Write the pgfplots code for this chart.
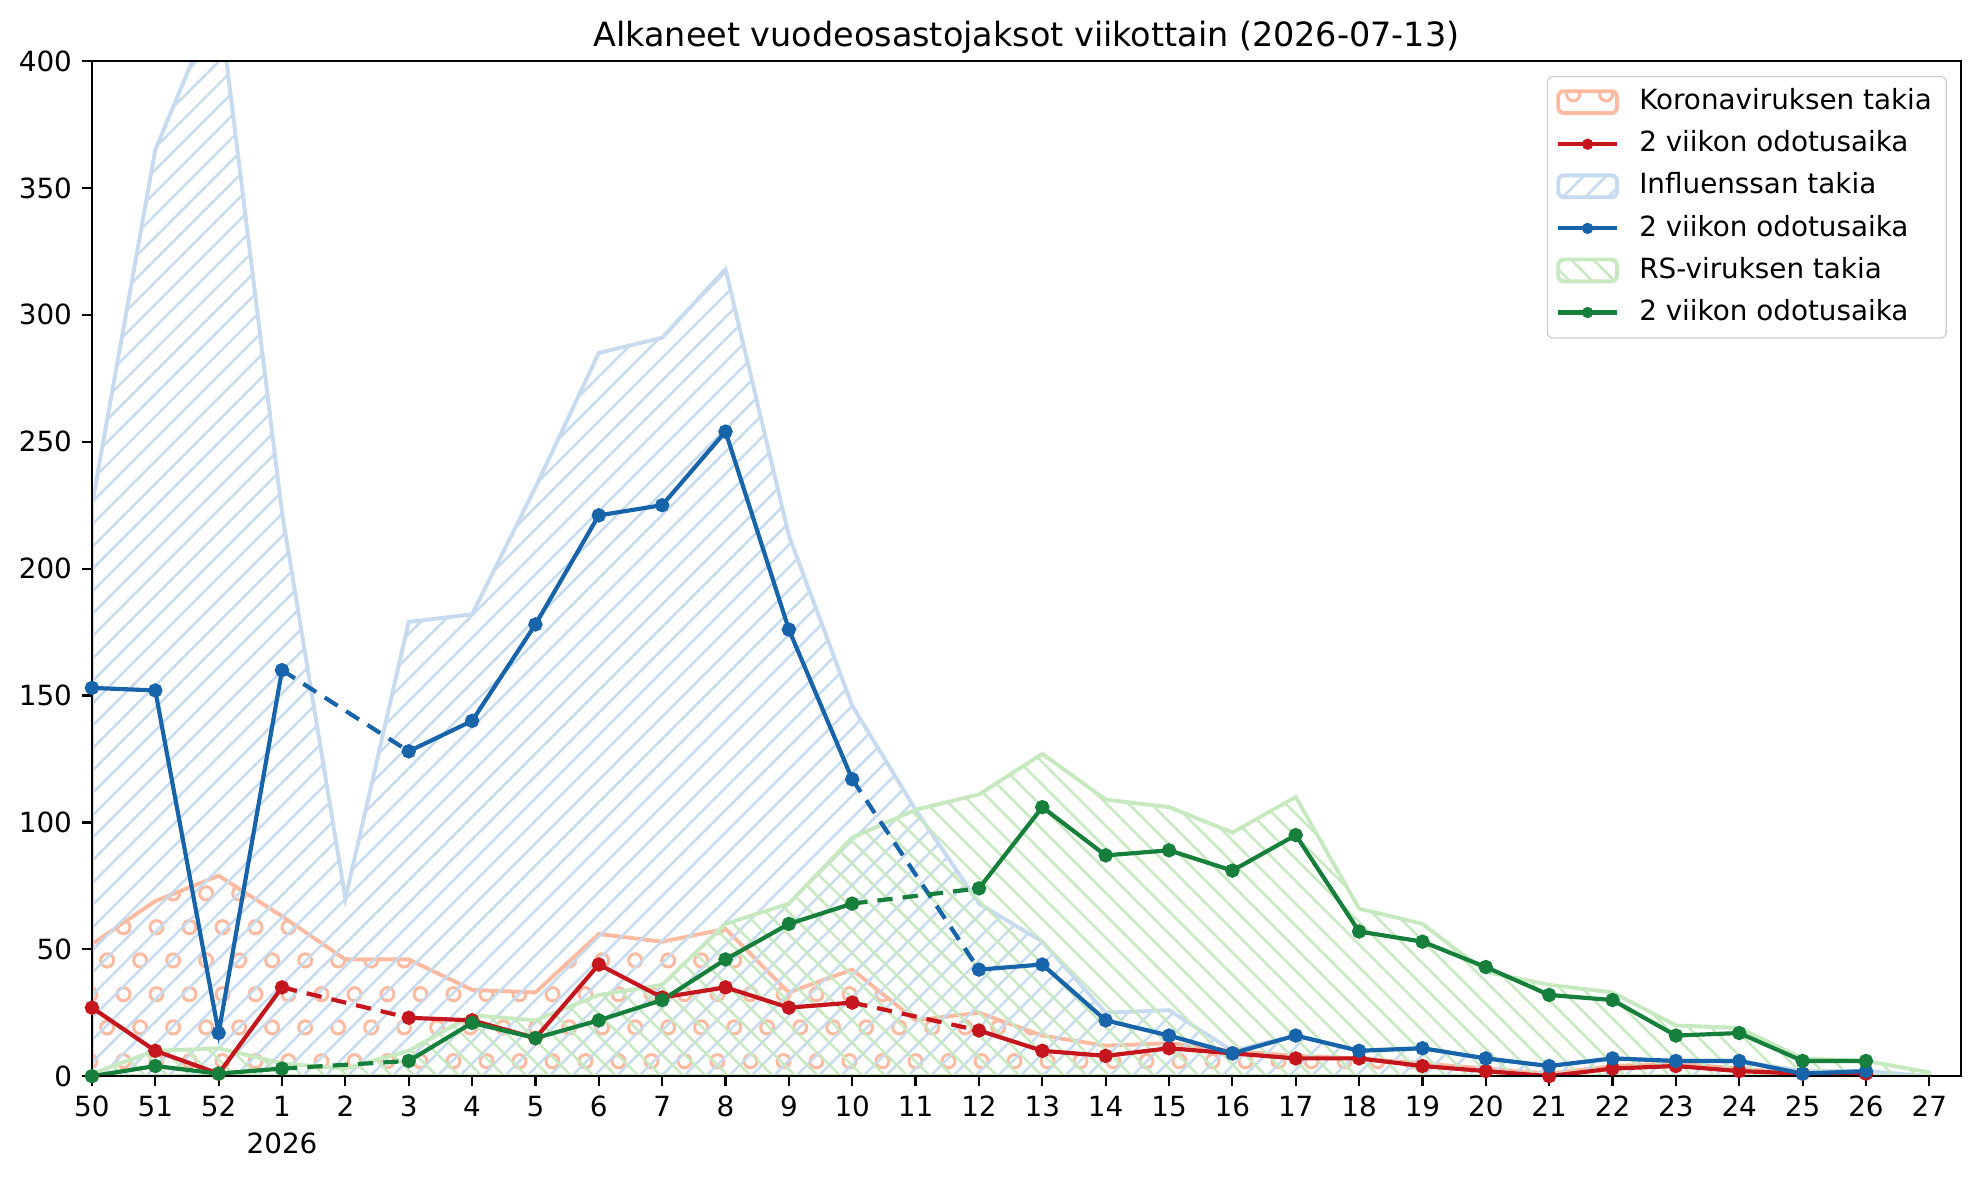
\documentclass[border=0pt]{standalone}
\usepackage{fontspec}
\setmainfont{DejaVu Sans}
\usepackage{pgfplots}
\pgfplotsset{compat=1.18}
\usetikzlibrary{patterns,patterns.meta}

\definecolor{covA}{HTML}{FCBBA1}
\definecolor{covL}{HTML}{C4161C}
\definecolor{fluA}{HTML}{C6DBEF}
\definecolor{fluL}{HTML}{1764AB}
\definecolor{rsA}{HTML}{C7E9C0}
\definecolor{rsL}{HTML}{157F3B}

% matplotlib 'o' hatch: staggered rows of small rings
\tikzdeclarepattern{
  name=ohatch,
  type=uncolored,
  bounding box={(0pt,0pt) and (11.56pt,23.12pt)},
  tile size={(11.56pt,23.12pt)},
  code={
    \pgfsetlinewidth{1.05pt}
    \pgfpathcircle{\pgfpoint{2.89pt}{5.78pt}}{2.3pt}
    \pgfpathcircle{\pgfpoint{8.67pt}{17.34pt}}{2.3pt}
    \pgfusepath{stroke}
  }
}

\pgfplotsset{
  every axis title/.style={at={(0.5,1)}, anchor=south, yshift=-1pt,
    font=\fontsize{11.6}{13.5}\selectfont},
  area/.style={forget plot, line width=1.35pt},
  wline/.style={forget plot, line width=1.45pt, mark=*, mark size=1.75pt,
    unbounded coords=jump},
  bridge/.style={forget plot, line width=1.45pt, dash pattern=on 5.3pt off 3.5pt},
}

\begin{document}
\begin{tikzpicture}
\begin{axis}[
  scale only axis,
  width=648.5pt, height=352.2pt,
  xmin=0, xmax=29.5, ymin=0, ymax=400,
  xtick={0,...,29},
  xticklabels={50,51,52,{1\\2026},2,3,4,5,6,7,8,9,10,11,12,13,14,15,16,17,18,19,20,21,22,23,24,25,26,27},
  ytick={0,50,...,400},
  tick pos=left,
  tick align=outside,
  major tick length=3.4pt,
  tick style={black, line width=0.77pt},
  axis line style={line width=0.77pt},
  axis on top,
  x tick label style={align=center, font=\fontsize{9.65}{12.8}\selectfont},
  y tick label style={font=\fontsize{9.65}{12}\selectfont},
  /pgf/number format/assume math mode=true,
  title={Alkaneet vuodeosastojaksot viikottain (2026-07-13)},
  legend cell align=left,
  legend style={at={(1,1)}, anchor=north east, xshift=-4.9pt, yshift=-5.2pt,
    draw=black!20, rounded corners=2pt, font=\fontsize{9.65}{12}\selectfont,
    inner xsep=3pt, inner ysep=2pt, row sep=0.9pt,
    nodes={text height=7.5pt, text depth=2.2pt},
    /tikz/every odd column/.append style={column sep=5pt}},
]

% legend, in the order of the original
\addlegendimage{legend image code/.code={\draw[covA, line width=1.35pt, pattern=ohatch, pattern color=covA] (0pt,-3.8pt) rectangle (20.4pt,3.8pt);}}
\addlegendentry{Koronaviruksen takia}
\addlegendimage{legend image code/.code={\draw[covL, line width=1.45pt] (0pt,0pt) -- (20.4pt,0pt); \fill[covL] (10.2pt,0pt) circle (1.75pt);}}
\addlegendentry{2 viikon odotusaika}
\addlegendimage{legend image code/.code={\draw[fluA, line width=1.35pt, pattern={Lines[angle=45,distance=5.5pt,line width=0.85pt]}, pattern color=fluA] (0pt,-3.8pt) rectangle (20.4pt,3.8pt);}}
\addlegendentry{Influenssan takia}
\addlegendimage{legend image code/.code={\draw[fluL, line width=1.45pt] (0pt,0pt) -- (20.4pt,0pt); \fill[fluL] (10.2pt,0pt) circle (1.75pt);}}
\addlegendentry{2 viikon odotusaika}
\addlegendimage{legend image code/.code={\draw[rsA, line width=1.35pt, pattern={Lines[angle=-45,distance=5.5pt,line width=0.85pt]}, pattern color=rsA] (0pt,-3.8pt) rectangle (20.4pt,3.8pt);}}
\addlegendentry{RS-viruksen takia}
\addlegendimage{legend image code/.code={\draw[rsL, line width=1.45pt] (0pt,0pt) -- (20.4pt,0pt); \fill[rsL] (10.2pt,0pt) circle (1.75pt);}}
\addlegendentry{2 viikon odotusaika}

% areas: x = 0 is week 50, x = 3 is week 1, x = 29 is week 27
\addplot[area, draw=covA, pattern=ohatch, pattern color=covA] coordinates {
  (0,52) (1,69) (2,79) (3,63) (4,46) (5,46) (6,34) (7,33) (8,56) (9,53)
  (10,58) (11,33) (12,42) (13,22) (14,25) (15,16) (16,12) (17,13) (18,10) (19,8)
  (20,7) (21,5) (22,3) (23,1) (24,4) (25,5) (26,3) (27,1) (28,1) (29,0)
} \closedcycle;

\addplot[area, draw=fluA, pattern={Lines[angle=45,distance=5.5pt,line width=0.85pt]}, pattern color=fluA] coordinates {
  (0,225) (1,365) (2,425) (3,222) (4,70) (5,179) (6,182) (7,232) (8,285) (9,291)
  (10,318) (11,213) (12,146) (13,105) (14,68) (15,53) (16,25) (17,26) (18,10) (19,16)
  (20,10) (21,11) (22,7) (23,4) (24,7) (25,6) (26,6) (27,2) (28,2) (29,0)
} \closedcycle;

\addplot[area, draw=rsA, pattern={Lines[angle=-45,distance=5.5pt,line width=0.85pt]}, pattern color=rsA] coordinates {
  (0,1) (1,10) (2,11) (3,5) (4,3) (5,10) (6,24) (7,22) (8,32) (9,36)
  (10,60) (11,68) (12,94) (13,105) (14,111) (15,127) (16,109) (17,106) (18,96) (19,110)
  (20,66) (21,60) (22,41) (23,36) (24,33) (25,20) (26,19) (27,7) (28,6) (29,1.5)
} \closedcycle;

% 2-week lines; weeks 2 and 11 are bridged with dashes
\addplot[wline, covL] coordinates {
  (0,27) (1,10) (2,1) (3,35) (4,nan) (5,23) (6,22) (7,15) (8,44) (9,31)
  (10,35) (11,27) (12,29) (13,nan) (14,18) (15,10) (16,8) (17,11) (18,9) (19,7)
  (20,7) (21,4) (22,2) (23,0) (24,3) (25,4) (26,2) (27,1) (28,1)
};
\addplot[bridge, covL] coordinates {(3,35) (5,23)};
\addplot[bridge, covL] coordinates {(12,29) (14,18)};

\addplot[wline, fluL] coordinates {
  (0,153) (1,152) (2,17) (3,160) (4,nan) (5,128) (6,140) (7,178) (8,221) (9,225)
  (10,254) (11,176) (12,117) (13,nan) (14,42) (15,44) (16,22) (17,16) (18,9) (19,16)
  (20,10) (21,11) (22,7) (23,4) (24,7) (25,6) (26,6) (27,1) (28,2)
};
\addplot[bridge, fluL] coordinates {(3,160) (5,128)};
\addplot[bridge, fluL] coordinates {(12,117) (14,42)};

\addplot[wline, rsL] coordinates {
  (0,0) (1,4) (2,1) (3,3) (4,nan) (5,6) (6,21) (7,15) (8,22) (9,30)
  (10,46) (11,60) (12,68) (13,nan) (14,74) (15,106) (16,87) (17,89) (18,81) (19,95)
  (20,57) (21,53) (22,43) (23,32) (24,30) (25,16) (26,17) (27,6) (28,6)
};
\addplot[bridge, rsL] coordinates {(3,3) (5,6)};
\addplot[bridge, rsL] coordinates {(12,68) (14,74)};

\end{axis}
\path ([shift={(-31.9pt,-35pt)}]current axis.south west)
  rectangle ([shift={(6.6pt,21.2pt)}]current axis.north east);
\end{tikzpicture}
\end{document}
